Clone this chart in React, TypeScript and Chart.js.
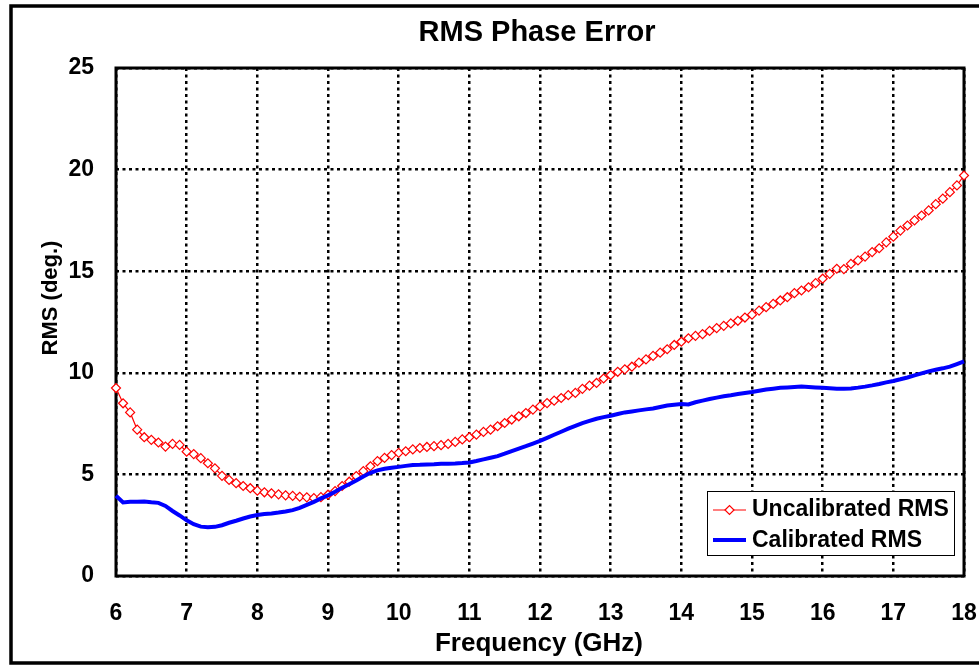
import React, { useEffect, useRef } from "react";
import { Chart, registerables } from "chart.js";

Chart.register(...registerables);

const FONT = "'Liberation Sans', Arial, Helvetica, sans-serif";

const TITLE = "RMS Phase Error";
const X_TITLE = "Frequency (GHz)";
const Y_TITLE = "RMS (deg.)";
const SERIES_NAMES = ["Uncalibrated RMS", "Calibrated RMS"];

// Frequency samples (GHz)
const FREQ = [
  6.0, 6.1, 6.2, 6.3, 6.4, 6.5, 6.6, 6.7, 6.8, 6.9,
  7.0, 7.1, 7.2, 7.3, 7.4, 7.5, 7.6, 7.7, 7.8, 7.9,
  8.0, 8.1, 8.2, 8.3, 8.4, 8.5, 8.6, 8.7, 8.8, 8.9,
  9.0, 9.1, 9.2, 9.3, 9.4, 9.5, 9.6, 9.7, 9.8, 9.9,
  10.0, 10.1, 10.2, 10.3, 10.4, 10.5, 10.6, 10.7, 10.8, 10.9,
  11.0, 11.1, 11.2, 11.3, 11.4, 11.5, 11.6, 11.7, 11.8, 11.9,
  12.0, 12.1, 12.2, 12.3, 12.4, 12.5, 12.6, 12.7, 12.8, 12.9,
  13.0, 13.1, 13.2, 13.3, 13.4, 13.5, 13.6, 13.7, 13.8, 13.9,
  14.0, 14.1, 14.2, 14.3, 14.4, 14.5, 14.6, 14.7, 14.8, 14.9,
  15.0, 15.1, 15.2, 15.3, 15.4, 15.5, 15.6, 15.7, 15.8, 15.9,
  16.0, 16.1, 16.2, 16.3, 16.4, 16.5, 16.6, 16.7, 16.8, 16.9,
  17.0, 17.1, 17.2, 17.3, 17.4, 17.5, 17.6, 17.7, 17.8, 17.9,
  18.0,
];

const UNCALIBRATED = [
  9.25, 8.5, 8.05, 7.2, 6.83, 6.7, 6.57, 6.37, 6.5, 6.45,
  6.12, 6.0, 5.8, 5.55, 5.3, 4.93, 4.73, 4.57, 4.43, 4.32,
  4.2, 4.12, 4.07, 4.02, 3.97, 3.94, 3.9, 3.87, 3.83, 3.88,
  4.0, 4.18, 4.43, 4.64, 4.92, 5.16, 5.4, 5.65, 5.81, 5.95,
  6.06, 6.14, 6.23, 6.3, 6.35, 6.39, 6.44, 6.5, 6.6, 6.72,
  6.83, 6.96, 7.09, 7.2, 7.37, 7.53, 7.7, 7.86, 8.02, 8.19,
  8.35, 8.51, 8.63, 8.76, 8.9, 9.01, 9.21, 9.37, 9.5, 9.72,
  9.89, 10.05, 10.17, 10.3, 10.5, 10.66, 10.83, 10.99, 11.16, 11.37,
  11.53, 11.7, 11.82, 11.9, 12.06, 12.2, 12.31, 12.43, 12.56, 12.72,
  12.86, 13.06, 13.23, 13.39, 13.56, 13.72, 13.92, 14.05, 14.21, 14.41,
  14.63, 14.87, 15.12, 15.1, 15.36, 15.53, 15.72, 15.94, 16.13, 16.42,
  16.7, 17.0, 17.25, 17.5, 17.74, 17.99, 18.3, 18.57, 18.89, 19.22,
  19.71,
];

const CALIBRATED = [
  3.95, 3.62, 3.65, 3.65, 3.67, 3.63, 3.6, 3.45, 3.2, 2.98,
  2.74, 2.55, 2.43, 2.4, 2.42, 2.5, 2.62, 2.72, 2.83, 2.93,
  3.0, 3.05, 3.08, 3.12, 3.17, 3.24, 3.35, 3.5, 3.65, 3.82,
  3.97, 4.15, 4.34, 4.52, 4.7, 4.9, 5.08, 5.2, 5.28, 5.33,
  5.37, 5.42, 5.46, 5.47, 5.49, 5.5, 5.52, 5.53, 5.54, 5.56,
  5.59, 5.66, 5.74, 5.82, 5.9, 6.02, 6.15, 6.27, 6.39, 6.52,
  6.65, 6.8, 6.95, 7.1, 7.25, 7.39, 7.52, 7.63, 7.74, 7.82,
  7.89, 7.97, 8.05, 8.1, 8.15, 8.2, 8.24, 8.32, 8.39, 8.43,
  8.47, 8.44, 8.55, 8.63, 8.71, 8.78, 8.85, 8.9, 8.96, 9.01,
  9.06, 9.12, 9.18, 9.22, 9.26, 9.28, 9.3, 9.32, 9.3, 9.28,
  9.26, 9.24, 9.22, 9.21, 9.23, 9.27, 9.32, 9.38, 9.45, 9.53,
  9.6, 9.68, 9.77, 9.87, 9.97, 10.07, 10.15, 10.22, 10.3, 10.43,
  10.56,
];

const X_MIN = 6;
const X_MAX = 18;
const X_STEP = 1;
const Y_MIN = 0;
const Y_MAX = 25;
const Y_STEP = 5;

const RED = "#ff0000";
const BLUE = "#0000ff";

const framePlugin = {
  id: "frame",
  beforeDatasetsDraw(chart: any) {
    const { ctx, chartArea } = chart;
    ctx.save();
    ctx.strokeStyle = "#000";
    ctx.lineWidth = 3;
    ctx.strokeRect(chartArea.left, chartArea.top, chartArea.right - chartArea.left, chartArea.bottom - chartArea.top);
    ctx.restore();
  },
};

const decorPlugin = {
  id: "decor",
  afterDraw(chart: any) {
    const { ctx } = chart;
    ctx.save();
    ctx.fillStyle = "#000";
    // Title
    ctx.font = `bold 29px ${FONT}`;
    ctx.textAlign = "center";
    ctx.textBaseline = "middle";
    ctx.fillText(TITLE, 537, 33);
    // X title
    ctx.font = `bold 26px ${FONT}`;
    ctx.textBaseline = "alphabetic";
    ctx.fillText(X_TITLE, 539, 651);
    // Y title
    ctx.save();
    ctx.translate(57, 298);
    ctx.rotate(-Math.PI / 2);
    ctx.font = `bold 22px ${FONT}`;
    ctx.textAlign = "center";
    ctx.textBaseline = "alphabetic";
    ctx.fillText(Y_TITLE, 0, 0);
    ctx.restore();

    // Legend
    const lx = 707.5, ly = 491.5, lw = 247, lh = 64;
    ctx.fillStyle = "#fff";
    ctx.fillRect(lx, ly, lw, lh);
    ctx.strokeStyle = "#000";
    ctx.lineWidth = 1;
    ctx.strokeRect(lx, ly, lw, lh);
    // red entry
    ctx.strokeStyle = RED;
    ctx.lineWidth = 1.2;
    ctx.beginPath();
    ctx.moveTo(713, 510);
    ctx.lineTo(746, 510);
    ctx.stroke();
    ctx.beginPath();
    const dx = 729.5, dy = 510, r = 4.5;
    ctx.moveTo(dx - r, dy);
    ctx.lineTo(dx, dy - r);
    ctx.lineTo(dx + r, dy);
    ctx.lineTo(dx, dy + r);
    ctx.closePath();
    ctx.fillStyle = "#fff";
    ctx.fill();
    ctx.stroke();
    // blue entry
    ctx.strokeStyle = BLUE;
    ctx.lineWidth = 4;
    ctx.beginPath();
    ctx.moveTo(713, 540);
    ctx.lineTo(746, 540);
    ctx.stroke();
    ctx.fillStyle = "#000";
    ctx.font = `bold 23px ${FONT}`;
    ctx.textAlign = "left";
    ctx.textBaseline = "middle";
    ctx.fillText(SERIES_NAMES[0], 752, 510);
    ctx.fillText(SERIES_NAMES[1], 752, 541);

    // Outer border (left, top, bottom)
    ctx.strokeStyle = "#000";
    ctx.lineWidth = 3.5;
    ctx.beginPath();
    ctx.moveTo(985, 6);
    ctx.lineTo(11, 6);
    ctx.lineTo(11, 663);
    ctx.lineTo(985, 663);
    ctx.stroke();
    ctx.restore();
  },
};

export default function App() {
  const ref = useRef<HTMLCanvasElement>(null);
  useEffect(() => {
    document.body.style.margin = "0";
    const canvas = ref.current!;
    const tickFont = { family: FONT, size: 23, weight: "bold" as const };
    const chart = new Chart(canvas, {
      type: "line",
      data: {
        datasets: [
          {
            label: SERIES_NAMES[0],
            data: FREQ.map((f, i) => ({ x: f, y: UNCALIBRATED[i] })),
            borderColor: RED,
            borderWidth: 1.2,
            pointStyle: "rectRot",
            pointRadius: 4.5,
            pointBorderColor: RED,
            pointBackgroundColor: "#ffffff",
            pointBorderWidth: 1.2,
            tension: 0,
            clip: false as any,
            order: 1,
          },
          {
            label: SERIES_NAMES[1],
            data: FREQ.map((f, i) => ({ x: f, y: CALIBRATED[i] })),
            borderColor: BLUE,
            borderWidth: 4,
            pointRadius: 0,
            tension: 0,
            clip: false as any,
            order: 0,
          },
        ],
      },
      options: {
        animation: false,
        responsive: false,
        events: [],
        layout: { padding: { top: 68, right: 15, left: 0, bottom: 0 } },
        plugins: {
          legend: { display: false },
          title: { display: false },
          tooltip: { enabled: false },
        },
        scales: {
          x: {
            type: "linear",
            min: X_MIN,
            max: X_MAX,
            ticks: {
              stepSize: X_STEP,
              padding: 24,
              color: "#000",
              font: tickFont,
              maxRotation: 0,
              autoSkip: false,
            },
            grid: { color: "#000", lineWidth: 2.5, drawTicks: false },
            border: { display: false, dash: [3, 3.5] },
            afterFit: (s: any) => {
              s.height = 90;
              s.paddingLeft = 0;
              s.paddingRight = 0;
            },
          },
          y: {
            type: "linear",
            min: Y_MIN,
            max: Y_MAX,
            ticks: {
              stepSize: Y_STEP,
              padding: 22,
              color: "#000",
              font: tickFont,
            },
            grid: { color: "#000", lineWidth: 2.5, drawTicks: false },
            border: { display: false, dash: [3, 3.5] },
            afterFit: (s: any) => {
              s.width = 116;
              s.paddingTop = 0;
              s.paddingBottom = 0;
            },
          },
        },
      },
      plugins: [framePlugin, decorPlugin],
    });
    return () => chart.destroy();
  }, []);
  return (
    <canvas
      ref={ref}
      width={979}
      height={666}
      style={{ display: "block", width: 979, height: 666 }}
    />
  );
}
